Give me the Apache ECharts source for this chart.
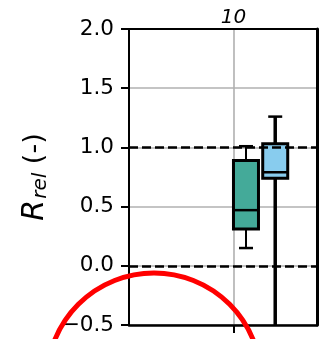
<!DOCTYPE html>
<html>
<head>
<meta charset="utf-8">
<script src="https://cdn.jsdelivr.net/npm/echarts@6/dist/echarts.min.js"></script>
<style>
html,body{margin:0;padding:0;background:#fff;}
#chart{width:320px;height:339px;}
</style>
</head>
<body>
<div id="chart"></div>
<script>
// ---- data ----
const boxNames    = ['A', 'B'];
const boxX        = [11.2, 14.0];   // x position of each box
const whiskerLow  = [0.15, -0.6];   // blue whisker runs below the visible range
const quart1      = [0.31, 0.74];
const medians     = [0.47, 0.79];
const quart3      = [0.89, 1.03];
const whiskerHigh = [1.01, 1.26];
const refLines    = [1.0, 0.0];
const yTicks      = [-0.5, 0.0, 0.5, 1.0, 1.5, 2.0];
const xTicks      = [10];

// ---- styles ----
const boxColors = ['#44AA99', '#88CCEE'];
const whiskerWidths = [2, 3.5];
const BOX_W = 25, CAP_W = 14;

const chart = echarts.init(document.getElementById('chart'), null, {renderer: 'canvas'});

const boxData = boxX.map((x, i) => [x, whiskerLow[i], quart1[i], medians[i], quart3[i], whiskerHigh[i]]);

function renderBox(params, api) {
  const i = params.dataIndex;
  const x = api.value(0);
  const pLow = api.coord([x, api.value(1)]);
  const pQ1 = api.coord([x, api.value(2)]);
  const pMed = api.coord([x, api.value(3)]);
  const pQ3 = api.coord([x, api.value(4)]);
  const pHigh = api.coord([x, api.value(5)]);
  const cx = pQ1[0];
  const ws = {stroke: '#000', lineWidth: whiskerWidths[i]};
  const cs = {stroke: '#000', lineWidth: 2.5};
  return {
    type: 'group',
    children: [
      {type: 'line', shape: {x1: cx, y1: pLow[1], x2: cx, y2: pQ1[1]}, style: ws},
      {type: 'line', shape: {x1: cx, y1: pQ3[1], x2: cx, y2: pHigh[1]}, style: ws},
      {type: 'line', shape: {x1: cx - CAP_W / 2, y1: pLow[1], x2: cx + CAP_W / 2, y2: pLow[1]}, style: cs},
      {type: 'line', shape: {x1: cx - CAP_W / 2, y1: pHigh[1], x2: cx + CAP_W / 2, y2: pHigh[1]}, style: cs},
      {type: 'rect', shape: {x: cx - BOX_W / 2, y: pQ3[1], width: BOX_W, height: pQ1[1] - pQ3[1]},
        style: {fill: boxColors[i], stroke: '#000', lineWidth: 3}},
      {type: 'line', shape: {x1: cx - BOX_W / 2, y1: pMed[1], x2: cx + BOX_W / 2, y2: pMed[1]},
        style: {stroke: '#000', lineWidth: 2.5}}
    ]
  };
}

const FONT = 'DejaVu Sans';

const option = {
  animation: false,
  backgroundColor: '#fff',
  grid: {left: 129, right: 3, top: 29, bottom: 14, containLabel: false},
  xAxis: [
    {
      type: 'value', position: 'bottom', min: 0, max: 18, interval: 10,
      axisLine: {show: true, onZero: false, lineStyle: {color: '#000', width: 2.5}},
      axisTick: {show: true, customValues: xTicks, length: 8, lineStyle: {color: '#000', width: 2}},
      axisLabel: {show: false},
      splitLine: {show: true, lineStyle: {color: '#b0b0b0', width: 1.6}}
    },
    {
      type: 'value', position: 'top', min: 0, max: 18, interval: 10,
      axisLine: {show: true, onZero: false, lineStyle: {color: '#000', width: 2}},
      axisTick: {show: false},
      axisLabel: {show: true, customValues: xTicks, fontFamily: FONT, fontStyle: 'italic',
        fontSize: 20, color: '#000', margin: 1},
      splitLine: {show: false}
    }
  ],
  yAxis: [
    {
      type: 'value', position: 'left', min: yTicks[0], max: yTicks[yTicks.length - 1], interval: 0.5,
      axisLine: {show: true, onZero: false, lineStyle: {color: '#000', width: 2}},
      axisTick: {show: true, length: 8, lineStyle: {color: '#000', width: 2}},
      axisLabel: {fontFamily: FONT, fontSize: 21.5, color: '#000', margin: 15,
        formatter: v => v.toFixed(1).replace('-', '\u2212')},
      splitLine: {show: true, lineStyle: {color: '#b0b0b0', width: 1.6}},
      name: '{it|R}{sub|rel} (-)',
      nameLocation: 'middle', nameRotate: 90, nameGap: 77,
      nameTextStyle: {
        fontFamily: FONT, fontSize: 27, color: '#000',
        rich: {
          it: {fontFamily: FONT, fontStyle: 'italic', fontSize: 30, color: '#000'},
          sub: {fontFamily: FONT, fontStyle: 'italic', fontSize: 20, color: '#000', verticalAlign: 'bottom', padding: [12, 0, 0, 1]}
        }
      }
    },
    {
      type: 'value', position: 'right', min: yTicks[0], max: yTicks[yTicks.length - 1], interval: 0.5,
      axisLine: {show: true, onZero: false, lineStyle: {color: '#000', width: 3}},
      axisTick: {show: false}, axisLabel: {show: false}, splitLine: {show: false}
    }
  ],
  series: [
    {
      type: 'line', xAxisIndex: 0, yAxisIndex: 0, data: [], silent: true,
      markLine: {
        silent: true, symbol: 'none', label: {show: false},
        lineStyle: {color: '#000', width: 2.5, type: [9, 4]},
        data: refLines.map(v => ({yAxis: v}))
      },
      z: 3
    },
    {
      type: 'custom', name: 'boxes', xAxisIndex: 0, yAxisIndex: 0,
      clip: true, renderItem: renderBox,
      encode: {x: 0, y: [1, 2, 3, 4, 5]},
      data: boxData, z: 4
    }
  ],
  graphic: [
    {type: 'circle', z: 100, silent: true,
      shape: {cx: 154, cy: 380, r: 107},
      style: {fill: 'none', stroke: '#ff0000', lineWidth: 5}}
  ]
};
chart.setOption(option);
</script>
</body>
</html>
